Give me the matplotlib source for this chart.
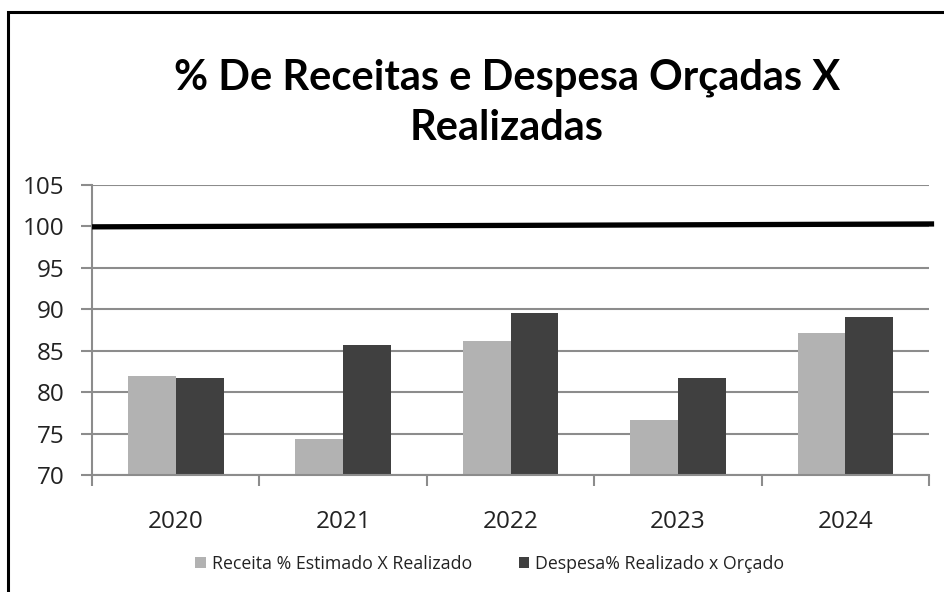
import numpy as np
import matplotlib
matplotlib.use("Agg")
import matplotlib.pyplot as plt
from matplotlib.patches import Rectangle

anos = ["2020", "2021", "2022", "2023", "2024"]
receita = [82.0, 74.4, 86.2, 76.6, 87.1]
despesa = [81.7, 85.7, 89.55, 81.7, 89.1]
linha_ref_x = [-0.5, 4.53]
linha_ref_y = [99.95, 100.3]

plt.rcParams['font.family'] = ['Open Sans', 'DejaVu Sans']

fig = plt.figure(figsize=(9.44, 5.92), dpi=100)
ax = fig.add_axes([0.0975, 0.1976, 0.8867, 0.4899])

x = np.arange(len(anos))
w = 0.2857
ax.bar(x - w / 2, receita, w, color="#b2b2b2", label="Receita % Estimado X Realizado", zorder=2)
ax.bar(x + w / 2, despesa, w, color="#404040", label="Despesa% Realizado x Orçado", zorder=2)
ax.plot(linha_ref_x, linha_ref_y, color="black", lw=3.8, solid_capstyle="butt", clip_on=False, zorder=3)

ax.set_xlim(-0.5, 4.5)
ax.set_ylim(70, 105)
ax.set_yticks(range(70, 106, 5))
ax.yaxis.grid(True, color="#8c8c8c", lw=1.5, zorder=0)
ax.set_axisbelow(True)
ax.set_xticks(x)
ax.set_xticklabels(anos, fontsize=17.5, color="#222222")
ax.set_xticks(np.arange(-0.5, 4.6, 1), minor=True)
ax.tick_params(axis="x", which="major", length=0, pad=25)
ax.tick_params(axis="x", which="minor", length=8, width=1.5, color="#8c8c8c")
ax.tick_params(axis="y", length=8, width=1.5, color="#8c8c8c", labelsize=17.5, labelcolor="#222222", pad=12)
for s in ["top", "right"]:
    ax.spines[s].set_visible(False)
for s in ["left", "bottom"]:
    ax.spines[s].set_color("#8c8c8c")
    ax.spines[s].set_linewidth(1.5)

fig.text(0.537, 0.826, "% De Receitas e Despesa Orçadas X\nRealizadas", ha="center", va="center",
         fontsize=30, fontweight="bold", family=["Lato", "DejaVu Sans"], linespacing=1.4)

fig.legend(loc="center", bbox_to_anchor=(0.519, 0.048), ncol=2, frameon=False, fontsize=12.8,
           handlelength=0.6, handleheight=0.6, columnspacing=2.6, handletextpad=0.35,
           labelcolor="#222222")

fig.add_artist(Rectangle((8 / 944, -0.1), 1.2, 1 - 12 / 592 + 0.1, transform=fig.transFigure,
                         fill=False, ec="black", lw=2.2))

fig.savefig("out.png", dpi=100)
